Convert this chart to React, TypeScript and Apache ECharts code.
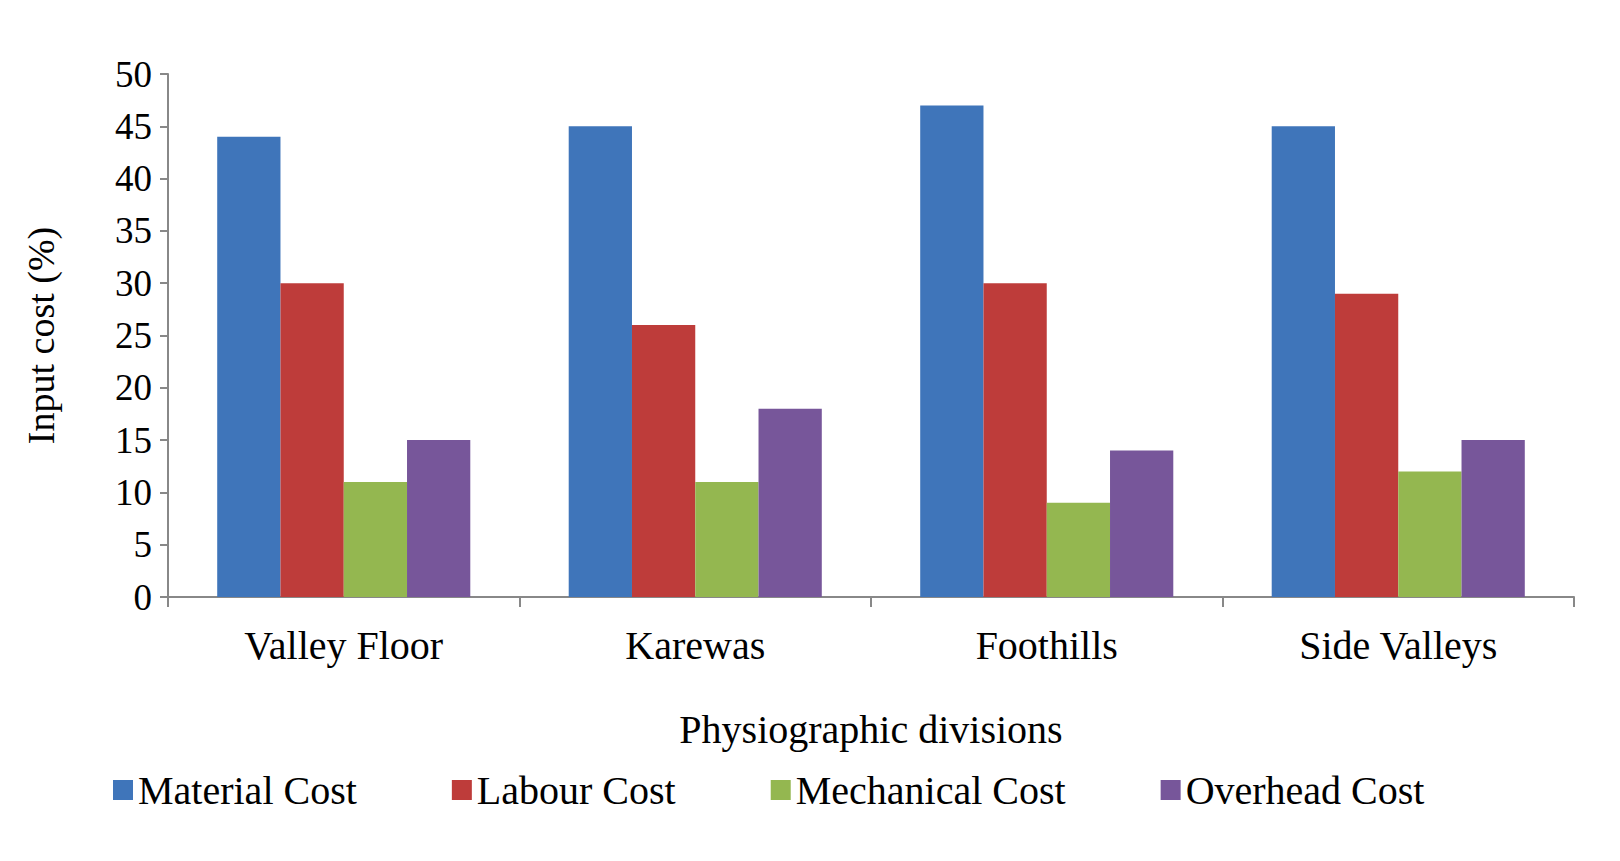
import React, { useEffect, useRef } from 'react';
import * as echarts from 'echarts';

const categories = ['Valley Floor', 'Karewas', 'Foothills', 'Side Valleys'];
const seriesNames = ['Material Cost', 'Labour Cost', 'Mechanical Cost', 'Overhead Cost'];
const materialCost = [44, 45, 47, 45];
const labourCost = [30, 26, 30, 29];
const mechanicalCost = [11, 11, 9, 12];
const overheadCost = [15, 18, 14, 15];
const colors = ['#3F75BA', '#BE3C3A', '#94B750', '#77569A'];

const font = '"Liberation Serif", "Times New Roman", serif';

const App: React.FC = () => {
  const chartRef = useRef<HTMLDivElement>(null);

  useEffect(() => {
    const chart = echarts.init(chartRef.current, null, { renderer: 'svg' });
    const values = [materialCost, labourCost, mechanicalCost, overheadCost];

    chart.setOption({
      animation: false,
      backgroundColor: '#fff',
      textStyle: { fontFamily: font, color: '#000' },
      grid: { left: 160, right: 38, top: 66, bottom: 256 },
      legend: {
        bottom: 38,
        left: 100,
        itemWidth: 20,
        itemHeight: 20,
        itemGap: 95,
        icon: 'rect',
        textStyle: { fontFamily: font, fontSize: 40, color: '#000' },
        data: seriesNames,
      },
      xAxis: {
        type: 'category',
        data: categories,
        name: 'Physiographic divisions',
        nameLocation: 'middle',
        nameGap: 112,
        nameTextStyle: { fontFamily: font, fontSize: 40, color: '#000' },
        axisLine: { lineStyle: { color: '#888', width: 2 } },
        axisTick: { show: true, length: 10, lineStyle: { color: '#888', width: 2 } },
        axisLabel: { fontFamily: font, fontSize: 40, color: '#000', margin: 28 },
      },
      yAxis: {
        type: 'value',
        min: 0,
        max: 50,
        interval: 5,
        name: 'Input cost (%)',
        nameLocation: 'middle',
        nameGap: 108,
        nameTextStyle: { fontFamily: font, fontSize: 38, color: '#000' },
        axisLine: { show: true, lineStyle: { color: '#888', width: 2 } },
        axisTick: { show: true, length: 8, lineStyle: { color: '#888', width: 2 } },
        axisLabel: { fontFamily: font, fontSize: 37, color: '#000', margin: 16 },
        splitLine: { show: false },
      },
      series: seriesNames.map((name, i) => ({
        name,
        type: 'bar',
        data: values[i],
        barGap: '0%',
        barCategoryGap: '28%',
        itemStyle: { color: colors[i] },
      })),
    });

    return () => {
      chart.dispose();
    };
  }, []);

  return <div ref={chartRef} style={{ width: '1604px', height: '845px' }} />;
};

export default App;
